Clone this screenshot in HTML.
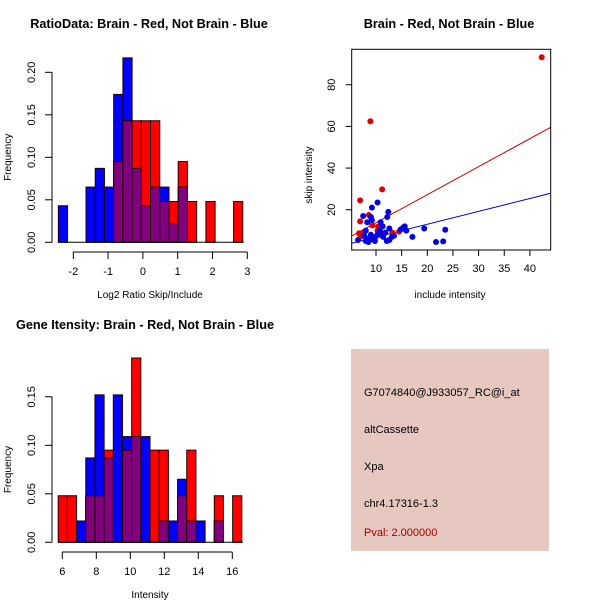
<!DOCTYPE html>
<html><head><meta charset="utf-8"><style>
body{margin:0;background:#fff;}
svg{display:block;font-family:"Liberation Sans",sans-serif;}
</style></head><body>
<svg id="c" width="600" height="600" viewBox="0 0 600 600">
<rect x="0" y="0" width="600" height="600" fill="#fff"/>
</svg>
<script>
// ---- Histogram 1 data (RatioData) ----
const h1Start = -2.43;
const h1Width = 0.265;
const h1Blue = [0.043,0,0,0.065,0.087,0.065,0.174,0.217,0.087,0.043,0.065,0.065,0.022,0.065,0,0,0,0,0,0];
const h1Red  = [0,0,0,0,0,0,0.095,0.143,0.143,0.143,0.143,0.048,0.048,0.095,0.048,0,0.048,0,0,0.048];
const h1XTicks = [-2,-1,0,1,2,3];
const h1YTicks = [0,0.05,0.10,0.15,0.20];
// ---- Histogram 2 data (Gene intensity) ----
const h2Start = 5.76;
const h2Width = 0.54;
const h2Blue = [0,0,0.022,0.087,0.152,0.087,0.152,0.109,0.109,0.109,0,0.022,0.022,0.065,0.022,0.022,0,0.022,0,0];
const h2Red  = [0.048,0.048,0,0.048,0.048,0.095,0,0.095,0.190,0,0.095,0.095,0,0.048,0.095,0,0,0.048,0,0.048];
const h2XTicks = [6,8,10,12,14,16];
const h2YTicks = [0,0.05,0.10,0.15];
// ---- Scatter data ----
const redX = [42.3,8.9,11.2,6.9,6.9,8.6,10.4,6.7,10.3,10.8,13.2,14.5,7.5,9.3,7.0];
const redY = [93.2,62.5,29.8,24.5,14.4,17.5,11.9,8.7,10,9.5,9,9.5,9,12.5,7];
const blueX = [6.5,7.5,8.0,8.3,8.6,9.0,9.2,9.2,9.0,10.3,9.8,10.3,10.9,11.3,11.4,11.8,12.1,12.2,12.4,12.6,12.6,13.1,10.8,10.7,8.0,8.3,9.3,7.7,8.5,14.8,15.3,15.6,15.9,17.1,19.4,21.7,23.1,23.5,13.5,9.9];
const blueY = [5.5,17,10,14,5,8,21,15,16.5,23.5,5,8,14,12,7,9,5,16.5,19,11,5.5,7,8,10,5,6,6,7.5,4.5,10.5,11.5,12,10,7,11,4.5,4.8,10.4,7.5,7];
const fitRed = [0.32,1.345];
const fitBlue = [0.64,0.619];
const scXTicks = [10,15,20,25,30,35,40];
const scYTicks = [20,40,60,80];

const NS="http://www.w3.org/2000/svg";
const svg=document.getElementById('c');
function el(tag,attrs,parent,text){const e=document.createElementNS(NS,tag);for(const k in attrs)e.setAttribute(k,attrs[k]);if(text!==undefined)e.textContent=text;(parent||svg).appendChild(e);return e;}

function hist(cfg){
  const g=el('g',{});
  
  
  const sx=v=>cfg.x0px+(v-cfg.x0)*cfg.xs;
  const sy=v=>cfg.y0px-v*cfg.ys;
  for(let i=0;i<cfg.blue.length;i++){
    const l=sx(cfg.start+i*cfg.width), r=sx(cfg.start+(i+1)*cfg.width);
    const b=cfg.blue[i], rd=cfg.red[i], m=Math.min(b,rd);
    if(b>0){const e=el('rect',{x:l,y:sy(b),width:r-l,height:sy(0)-sy(b),fill:'#0000ff',stroke:'#200000','stroke-width':1},g);
      }
    if(rd>0){const e=el('rect',{x:l,y:sy(rd),width:r-l,height:sy(0)-sy(rd),fill:'#ff0000',stroke:'#200000','stroke-width':1},g);
      }
    if(m>0){const e=el('rect',{x:l,y:sy(m),width:r-l,height:sy(0)-sy(m),fill:'#800080',stroke:'#200000','stroke-width':1},g);
      }
  }
  el('line',{x1:sx(cfg.start),x2:sx(cfg.start+cfg.blue.length*cfg.width)+1,y1:sy(0),y2:sy(0),stroke:'#000'},g);
  const ya=el('g',{},g);
  const yt=cfg.yticks;
  el('line',{x1:52,x2:52,y1:sy(yt[0]),y2:sy(yt[yt.length-1]),stroke:'#000'},ya);
  yt.forEach(t=>{el('line',{x1:45,x2:52,y1:sy(t),y2:sy(t),stroke:'#000'},ya);
    const tx=el('text',{x:35,y:sy(t),'font-size':11,'text-anchor':'middle',transform:`rotate(-90 35 ${sy(t)})`},ya,t.toFixed(2));
    });
  const xa=el('g',{},g);
  const xt=cfg.xticks, ay=cfg.axisY;
  el('line',{x1:sx(xt[0]),x2:sx(xt[xt.length-1]),y1:ay,y2:ay,stroke:'#000'},xa);
  xt.forEach(t=>{el('line',{x1:sx(t),x2:sx(t),y1:ay,y2:ay+7,stroke:'#000'},xa);
    const tx=el('text',{x:sx(t),y:ay+23,'font-size':11,'text-anchor':'middle'},xa,String(t));
    });
  const ti=el('text',{x:cfg.titleX,y:cfg.titleY,'font-size':12.7,'font-weight':'bold','text-anchor':'middle'},g,cfg.title);
  
  const xl=el('text',{x:cfg.xlabX,y:cfg.xlabY,'font-size':10,'text-anchor':'middle'},g,cfg.xlab);
  
  const yc=(sy(yt[0])+sy(yt[yt.length-1]))/2;
  const yl=el('text',{x:11,y:yc,'font-size':10,'text-anchor':'middle',transform:`rotate(-90 11 ${yc})`},g,'Frequency');
  
}

hist({name:'ratio-histogram',start:h1Start,width:h1Width,blue:h1Blue,red:h1Red,x0:-2,x0px:73.3,xs:34.8,y0px:242.3,ys:850,
  xticks:h1XTicks,yticks:h1YTicks,axisY:252,title:'RatioData: Brain - Red, Not Brain - Blue',titleX:149,titleY:28,xlab:'Log2 Ratio Skip/Include',xlabX:150,xlabY:298});
hist({name:'intensity-histogram',start:h2Start,width:h2Width,blue:h2Blue,red:h2Red,x0:6,x0px:62.3,xs:17,y0px:542.3,ys:970,
  xticks:h2XTicks,yticks:h2YTicks,axisY:552,title:'Gene Itensity: Brain - Red, Not Brain - Blue',titleX:145,titleY:329,xlab:'Intensity',xlabX:150,xlabY:598});

(function(){
  const g=el('g',{});
  
  
  const L=351.7,R=550.7,T=49.3,B=250;
  const sx=v=>376+(v-10)*5.13;
  const sy=v=>251.4-v*2.083;
  const clip=el('clipPath',{id:'sc'},g);el('rect',{x:L,y:T,width:R-L,height:B-T},clip);
  const pts=el('g',{'clip-path':'url(#sc)'},g);
  const xa=[5.26,44.05];
  [[fitRed,'#cc0000','red-fit-line'],[fitBlue,'#0000cc','blue-fit-line']].forEach(([f,c,n])=>{
    const ln=el('line',{x1:sx(xa[0]),x2:sx(xa[1]),y1:sy(f[0]+f[1]*xa[0]),y2:sy(f[0]+f[1]*xa[1]),stroke:c,'stroke-width':1},pts);
    });
  for(let i=0;i<redX.length;i++){const c=el('circle',{cx:sx(redX[i]),cy:sy(redY[i]),r:3,fill:'#e00000'},pts);
    }
  for(let i=0;i<blueX.length;i++){const c=el('circle',{cx:sx(blueX[i]),cy:sy(blueY[i]),r:3,fill:'#0000e0'},pts);
    }
  el('rect',{x:L,y:T,width:R-L,height:B-T,fill:'none',stroke:'#000'},g);
  scXTicks.forEach(t=>{el('line',{x1:sx(t),x2:sx(t),y1:B,y2:B+6,stroke:'#000'},g);
    const tx=el('text',{x:sx(t),y:B+22,'font-size':11,'text-anchor':'middle'},g,String(t));
    });
  scYTicks.forEach(t=>{el('line',{x1:L-6,x2:L,y1:sy(t),y2:sy(t),stroke:'#000'},g);
    const tx=el('text',{x:335,y:sy(t),'font-size':11,'text-anchor':'middle',transform:`rotate(-90 335 ${sy(t)})`},g,String(t));
    });
  const ti=el('text',{x:449,y:28,'font-size':12.7,'font-weight':'bold','text-anchor':'middle'},g,'Brain - Red, Not Brain - Blue');
  
  const xl=el('text',{x:450,y:298,'font-size':10,'text-anchor':'middle'},g,'include intensity');
  
  const yl=el('text',{x:312,y:175,'font-size':10,'text-anchor':'middle',transform:'rotate(-90 312 175)'},g,'skip intensity');
  
})();

(function(){
  const g=el('g',{});
  
  
  el('rect',{x:351,y:349,width:198,height:202,fill:'#e6c8c1'},g);
  const lines=[['G7074840@J933057_RC@i_at',396,'#000','probe-id'],['altCassette',433,'#000','event-type'],['Xpa',470,'#000','gene-name'],['chr4.17316-1.3',507,'#000','location'],['Pval: 2.000000',536,'#a00000','p-value']];
  lines.forEach(([t,y,c,n])=>{const tx=el('text',{x:364,y:y,'font-size':11,fill:c},g,t);
    });
})();
</script>
</body></html>
